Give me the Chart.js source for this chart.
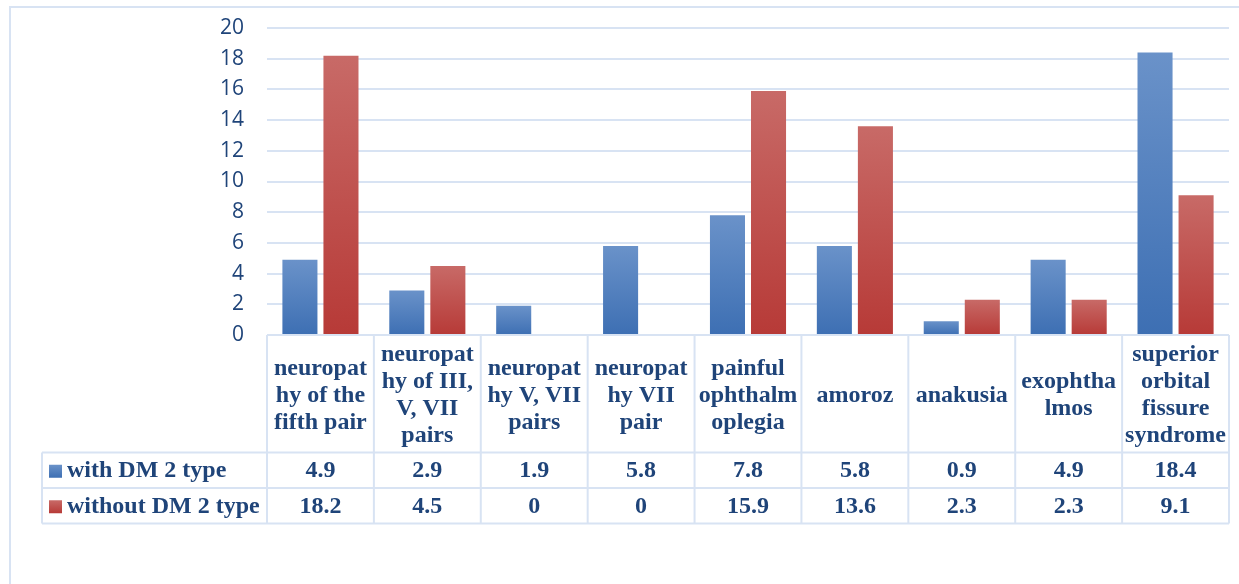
<!DOCTYPE html>
<html>
<head>
<meta charset="utf-8">
<script src="https://cdn.jsdelivr.net/npm/chart.js@4"></script>
<style>
  html, body { margin: 0; padding: 0; background: #ffffff; }
  #wrap { width: 1239px; height: 584px; position: relative; }
</style>
</head>
<body>
<div id="wrap"><canvas id="chart" width="1239" height="584"></canvas></div>
<script>
// Category labels, already broken into the lines shown in the table header
const categories = [
  ['neuropat', 'hy of the', 'fifth pair'],
  ['neuropat', 'hy of III,', 'V, VII', 'pairs'],
  ['neuropat', 'hy V, VII', 'pairs'],
  ['neuropat', 'hy VII', 'pair'],
  ['painful', 'ophthalm', 'oplegia'],
  ['amoroz'],
  ['anakusia'],
  ['exophtha', 'lmos'],
  ['superior', 'orbital', 'fissure', 'syndrome']
];
const seriesNames = ['with DM 2 type', 'without DM 2 type'];
const withDM2 = [4.9, 2.9, 1.9, 5.8, 7.8, 5.8, 0.9, 4.9, 18.4];
const withoutDM2 = [18.2, 4.5, 0, 0, 15.9, 13.6, 2.3, 2.3, 9.1];
const yTicks = [0, 2, 4, 6, 8, 10, 12, 14, 16, 18, 20];

const BLUE = ['#6a92c9', '#3d6fb3'];
const RED = ['#c86a67', '#b73a37'];
const LINE = '#d8e3f3';
const TEXT = '#1f4479';
const SERIF = '"Liberation Serif", "Times New Roman", serif';

// Vertical light-to-dark gradient spanning each bar
function barGradient(stops) {
  return function (ctx) {
    const chart = ctx.chart;
    const y = chart.scales && chart.scales.y;
    if (!y || ctx.raw === undefined) return stops[1];
    const top = y.getPixelForValue(ctx.raw);
    const bottom = y.getPixelForValue(0);
    if (!isFinite(top) || Math.abs(bottom - top) < 1) return stops[1];
    const g = chart.ctx.createLinearGradient(0, top, 0, bottom);
    g.addColorStop(0, stops[0]);
    g.addColorStop(1, stops[1]);
    return g;
  };
}

// Outer frame and the data table under the plot
const tablePlugin = {
  id: 'dataTable',
  beforeDraw(chart) {
    const c = chart.ctx;
    c.save();
    c.strokeStyle = LINE;
    c.lineWidth = 2;
    c.beginPath();
    c.moveTo(10, 600);
    c.lineTo(10, 7);
    c.lineTo(1260, 7);
    c.stroke();
    c.restore();
  },
  afterDraw(chart) {
    const c = chart.ctx;
    const area = chart.chartArea;
    const n = categories.length;
    const colW = (area.right - area.left) / n;
    const top = area.bottom;
    const headBottom = 452.5;
    const rowH = 35.5;
    const rows = [headBottom, headBottom + rowH, headBottom + 2 * rowH];
    const legendLeft = 42;

    c.save();
    c.strokeStyle = LINE;
    c.lineWidth = 2;
    c.beginPath();
    // column separators
    for (let i = 0; i <= n; i++) {
      const x = area.left + i * colW;
      c.moveTo(x, top);
      c.lineTo(x, rows[2]);
    }
    c.moveTo(legendLeft, headBottom);
    c.lineTo(legendLeft, rows[2]);
    rows.forEach(y => {
      c.moveTo(legendLeft, y);
      c.lineTo(area.right, y);
    });
    c.moveTo(area.left, top);
    c.lineTo(area.right, top);
    c.stroke();

    c.fillStyle = TEXT;
    c.font = 'bold 24px ' + SERIF;
    c.textAlign = 'center';
    c.textBaseline = 'middle';

    // header: category names
    const headMid = (top + headBottom) / 2 + 2;
    const lh = 27;
    categories.forEach((lines, i) => {
      const cx = area.left + (i + 0.5) * colW;
      lines.forEach((t, k) => {
        c.fillText(t, cx, headMid + (k - (lines.length - 1) / 2) * lh);
      });
    });

    // value rows
    const data = [withDM2, withoutDM2];
    const grads = [BLUE, RED];
    data.forEach((vals, r) => {
      const cy = rows[r] + rowH / 2 + 1;
      vals.forEach((v, i) => {
        const cx = area.left + (i + 0.5) * colW;
        c.textAlign = 'center';
        c.fillText(String(v), cx, cy);
      });
      // legend key
      const g = c.createLinearGradient(0, cy - 6.5, 0, cy + 6.5);
      g.addColorStop(0, grads[r][0]);
      g.addColorStop(1, grads[r][1]);
      c.fillStyle = g;
      c.fillRect(49, cy - 6.5, 13, 13);
      c.fillStyle = TEXT;
      c.textAlign = 'left';
      c.fillText(seriesNames[r], 67, cy);
    });
    c.restore();
  }
};

new Chart(document.getElementById('chart'), {
  type: 'bar',
  data: {
    labels: categories.map(l => l.join(' ')),
    datasets: [
      { label: seriesNames[0], data: withDM2, backgroundColor: barGradient(BLUE) },
      { label: seriesNames[1], data: withoutDM2, backgroundColor: barGradient(RED) }
    ]
  },
  options: {
    responsive: false,
    animation: false,
    events: [],
    layout: { padding: { left: 0, right: 10, top: 28, bottom: 249 } },
    datasets: {
      bar: { categoryPercentage: 0.768, barPercentage: 0.854 }
    },
    plugins: {
      legend: { display: false },
      tooltip: { enabled: false }
    },
    scales: {
      x: {
        display: false
      },
      y: {
        min: 0,
        max: 20,
        afterFit(scale) {
          scale.width = 267;
          scale.paddingTop = 0;
          scale.paddingBottom = 0;
        },
        afterBuildTicks(scale) { scale.ticks = yTicks.map(v => ({ value: v })); },
        border: { display: false },
        grid: { color: LINE, lineWidth: 2, drawTicks: false },
        ticks: {
          padding: 23,
          color: TEXT,
          font: { family: '"Open Sans", "Liberation Sans", sans-serif', size: 21 }
        }
      }
    }
  },
  plugins: [tablePlugin]
});
</script>
</body>
</html>
